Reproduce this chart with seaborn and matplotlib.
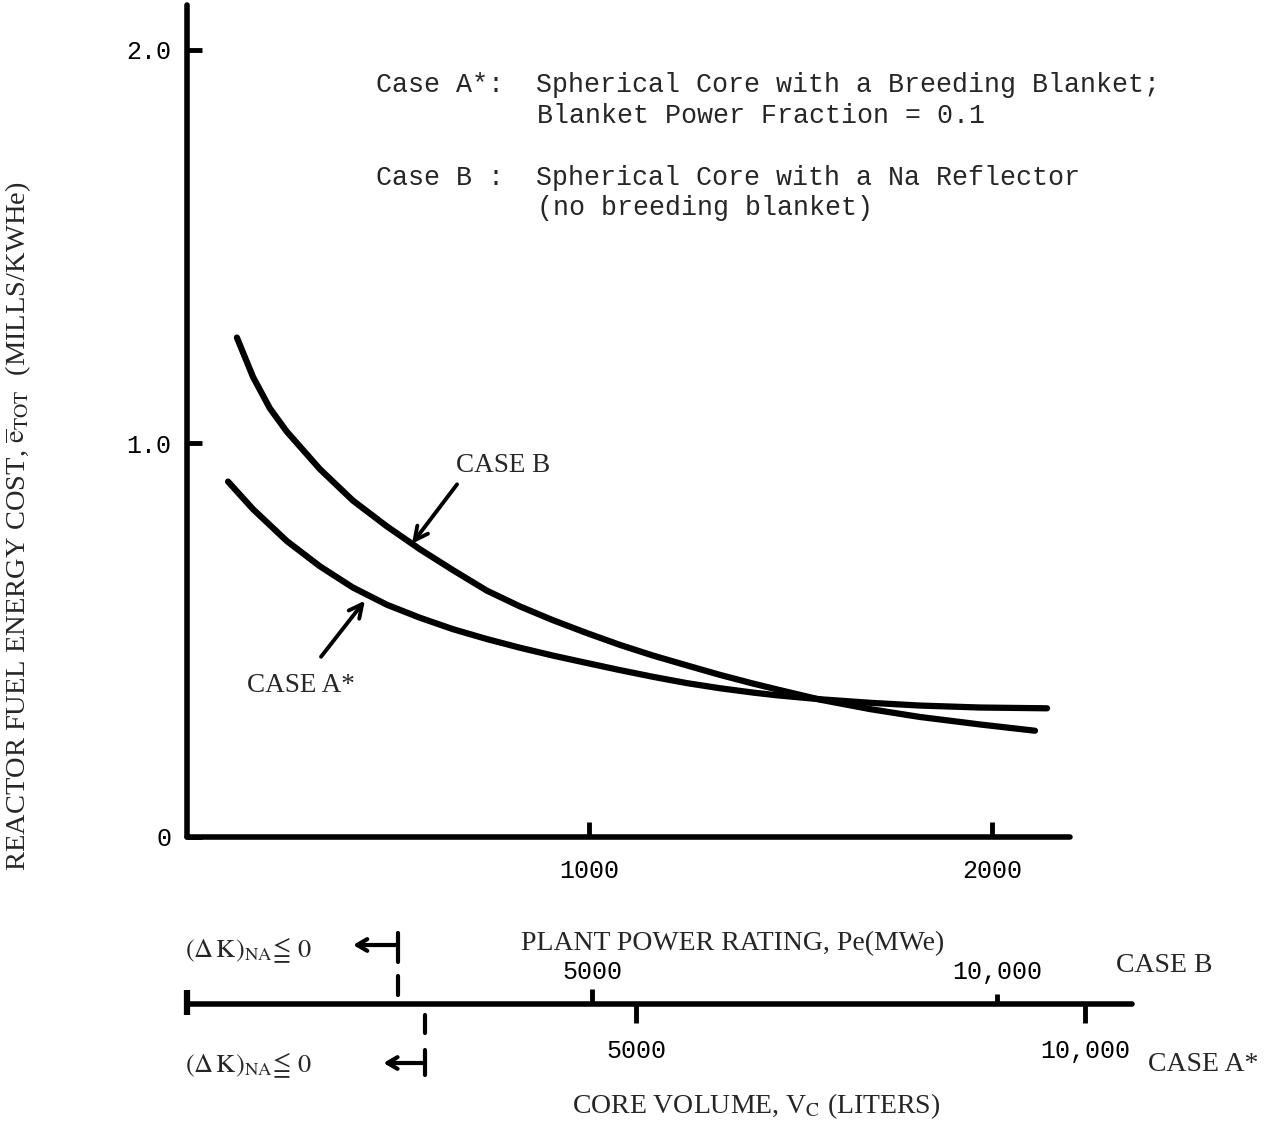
import numpy as np
import pandas as pd
import matplotlib
matplotlib.use('Agg')
import matplotlib.pyplot as plt
import matplotlib.transforms as mtransforms
import seaborn as sns

# Plant power rating (MWe) vs reactor fuel energy cost (mills/kWhe)
power_b = [124, 164, 206, 248, 330, 412, 497, 579, 661, 745, 827, 909, 994, 1076,
           1158, 1242, 1324, 1406, 1466, 1573, 1697, 1821, 1970, 2107]
cost_b = [1.269, 1.169, 1.089, 1.030, 0.935, 0.855, 0.789, 0.731, 0.678, 0.626, 0.586,
          0.551, 0.518, 0.488, 0.461, 0.436, 0.412, 0.390, 0.375, 0.349, 0.325, 0.305,
          0.286, 0.270]

power_a = [102, 164, 248, 330, 412, 497, 579, 661, 745, 827, 909, 994, 1076, 1158,
           1242, 1324, 1406, 1466, 1573, 1697, 1821, 1970, 2137]
cost_a = [0.903, 0.833, 0.752, 0.688, 0.634, 0.590, 0.557, 0.528, 0.503, 0.481, 0.461,
          0.442, 0.424, 0.407, 0.391, 0.378, 0.367, 0.360, 0.350, 0.341, 0.334, 0.329,
          0.327]

power_ticks = [1000, 2000]
power_labels = ['1000', '2000']
cost_ticks = [0, 1.0, 2.0]
cost_labels = ['0', '1.0', '2.0']

# core volume scales below the power axis
liters_per_mwe_b = 4.97
liters_per_mwe_a = 4.48
volume_ticks = [0, 5000, 10000]
volume_labels = ['', '5000', '10,000']
dk_limit_b = 2600   # (dK)_NA <= 0 limit, liters, case B
dk_limit_a = 2650   # same, case A*

df = pd.DataFrame({
    'power': power_b + power_a,
    'cost': cost_b + cost_a,
    'case': ['B'] * len(power_b) + ['A*'] * len(power_a),
})

sns.set_theme(style='ticks')
plt.rcParams['font.family'] = ['Liberation Serif', 'DejaVu Serif']
plt.rcParams['mathtext.fontset'] = 'stix'

W_PX, H_PX = 1268, 1125
def fx(px):
    return px / W_PX
def fy(py):
    return 1 - py / H_PX

MONO = 'Liberation Mono'

fig = plt.figure(figsize=(W_PX / 100, H_PX / 100), dpi=100)
ax = fig.add_axes([fx(187), fy(837), (1070 - 187) / W_PX, (837 - 5) / H_PX])

sns.lineplot(data=df, x='power', y='cost', hue='case',
             palette={'B': 'black', 'A*': 'black'}, legend=False,
             lw=4.5, solid_capstyle='round', solid_joinstyle='round', ax=ax)

ax.set_xlim(0, 2194)
ax.set_ylim(0, 2.114)
ax.set_xticks(power_ticks, power_labels)
ax.set_yticks(cost_ticks, cost_labels)
ax.set_xlabel('')
ax.set_ylabel('')
ax.tick_params(direction='in', length=11, width=3.5, color='black',
               labelsize=18, labelcolor='black')
ax.tick_params(axis='x', pad=16)
ax.tick_params(axis='y', pad=11)
for lbl in ax.get_xticklabels() + ax.get_yticklabels():
    lbl.set_fontfamily(MONO)
sns.despine(ax=ax)
for side in ['left', 'bottom']:
    ax.spines[side].set_linewidth(4)
    ax.spines[side].set_color('black')
    ax.spines[side].set_capstyle('round')

# curve labels with arrows
ax.text(785, 0.928, 'CASE B', ha='center', va='baseline', fontsize=19.5)
ax.annotate('', xy=(559, np.interp(559, power_b, cost_b)), xytext=(671, 0.896),
            arrowprops=dict(arrowstyle='->,head_length=0.8,head_width=0.4',
                            lw=2.8, color='black', shrinkA=0, shrinkB=0))
ax.text(283, 0.368, 'CASE A*', ha='center', va='baseline', fontsize=19.5)
ax.annotate('', xy=(442, np.interp(442, power_a, cost_a) - 0.018), xytext=(333, 0.458),
            arrowprops=dict(arrowstyle='->,head_length=0.8,head_width=0.4',
                            lw=2.8, color='black', shrinkA=0, shrinkB=0))

# case descriptions
fs_mono = 19.2
fig.text(fx(376), fy(92), 'Case A*:  Spherical Core with a Breeding Blanket;',
         family=MONO, fontsize=fs_mono, va='baseline')
fig.text(fx(537), fy(123), 'Blanket Power Fraction = 0.1',
         family=MONO, fontsize=fs_mono, va='baseline')
fig.text(fx(376), fy(185), 'Case B :  Spherical Core with a Na Reflector',
         family=MONO, fontsize=fs_mono, va='baseline')
fig.text(fx(537), fy(215), '(no breeding blanket)',
         family=MONO, fontsize=fs_mono, va='baseline')

# y label
fig.text(fx(25), fy(526),
         r'REACTOR FUEL ENERGY COST, $\overline{\mathrm{e}}_{\mathrm{TOT}}$  (MILLS/KWHe)',
         rotation=90, rotation_mode='anchor', ha='center', va='baseline', fontsize=20.5)

# core volume scale
P_END = (1132 - 187) / 0.4025
rect = [fx(187), fy(1004), (1132 - 187) / W_PX, 1e-4]

axB = fig.add_axes(rect, label='case_b_volume')
axB.set_xlim(0, P_END * liters_per_mwe_b)
axB.set_ylim(0, 1)
axB.patch.set_visible(False)
for s in axB.spines.values():
    s.set_visible(False)
axB.spines['bottom'].set_visible(True)
axB.spines['bottom'].set_linewidth(4)
axB.spines['bottom'].set_color('black')
axB.spines['bottom'].set_capstyle('round')
axB.set_yticks([])
axB.xaxis.tick_top()
axB.set_xticks(volume_ticks, volume_labels)
axB.tick_params(axis='x', direction='out', length=11, width=3.5, color='black',
                pad=3, labelsize=18, labelcolor='black')
for lbl in axB.get_xticklabels():
    lbl.set_fontfamily(MONO)

axA = fig.add_axes(rect, label='case_a_volume')
axA.set_xlim(0, P_END * liters_per_mwe_a)
axA.set_ylim(0, 1)
axA.patch.set_visible(False)
for s in axA.spines.values():
    s.set_visible(False)
axA.set_yticks([])
axA.set_xticks(volume_ticks, volume_labels)
axA.tick_params(axis='x', direction='out', length=13.5, width=3.5, color='black',
                pad=12, labelsize=18, labelcolor='black')
for lbl in axA.get_xticklabels():
    lbl.set_fontfamily(MONO)

tb = axB.xaxis.get_major_ticks()
tb[0].tick2line.set_markersize(10)
tb[0].tick2line.set_markeredgewidth(4.5)
tb[2].tick2line.set_markersize(7)
ta = axA.xaxis.get_major_ticks()
ta[0].tick1line.set_markersize(8)
ta[0].tick1line.set_markeredgewidth(4.5)

# (dK)_NA <= 0 limits
blend_b = mtransforms.blended_transform_factory(axB.transData, fig.transFigure)
blend_a = mtransforms.blended_transform_factory(axA.transData, fig.transFigure)
for y0, y1 in [(933, 962), (976, 995)]:
    axB.plot([dk_limit_b, dk_limit_b], [fy(y0), fy(y1)], color='black', lw=3,
             transform=blend_b, clip_on=False)
for y0, y1 in [(1015, 1033), (1050, 1075)]:
    axA.plot([dk_limit_a, dk_limit_a], [fy(y0), fy(y1)], color='black', lw=3,
             transform=blend_a, clip_on=False)
arrow_kw = dict(arrowstyle='<-,head_length=0.6,head_width=0.35', lw=3,
                color='black', shrinkA=0, shrinkB=0)
axB.annotate('', xy=(dk_limit_b, fy(945)), xycoords=blend_b,
             xytext=(-32, 0), textcoords='offset points', arrowprops=arrow_kw,
             annotation_clip=False)
axA.annotate('', xy=(dk_limit_a, fy(1063)), xycoords=blend_a,
             xytext=(-30, 0), textcoords='offset points', arrowprops=arrow_kw,
             annotation_clip=False)

dk_text = r'$(\Delta\,\mathrm{K})_{\mathrm{NA}}\!\leqq\,0$'
fig.text(fx(185), fy(957), dk_text, fontsize=19, va='baseline', ha='left')
fig.text(fx(185), fy(1072), dk_text, fontsize=19, va='baseline', ha='left')

fig.text(fx(733), fy(950), 'PLANT POWER RATING, Pe(MWe)', ha='center', va='baseline',
         fontsize=20)
fig.text(fx(756), fy(1113), r'CORE VOLUME, V$_{\mathrm{C}}$ (LITERS)', ha='center',
         va='baseline', fontsize=20)
fig.text(fx(1116), fy(972), 'CASE B', ha='left', va='baseline', fontsize=20)
fig.text(fx(1148), fy(1071), 'CASE A*', ha='left', va='baseline', fontsize=20)

fig.savefig('out.png', dpi=100)
